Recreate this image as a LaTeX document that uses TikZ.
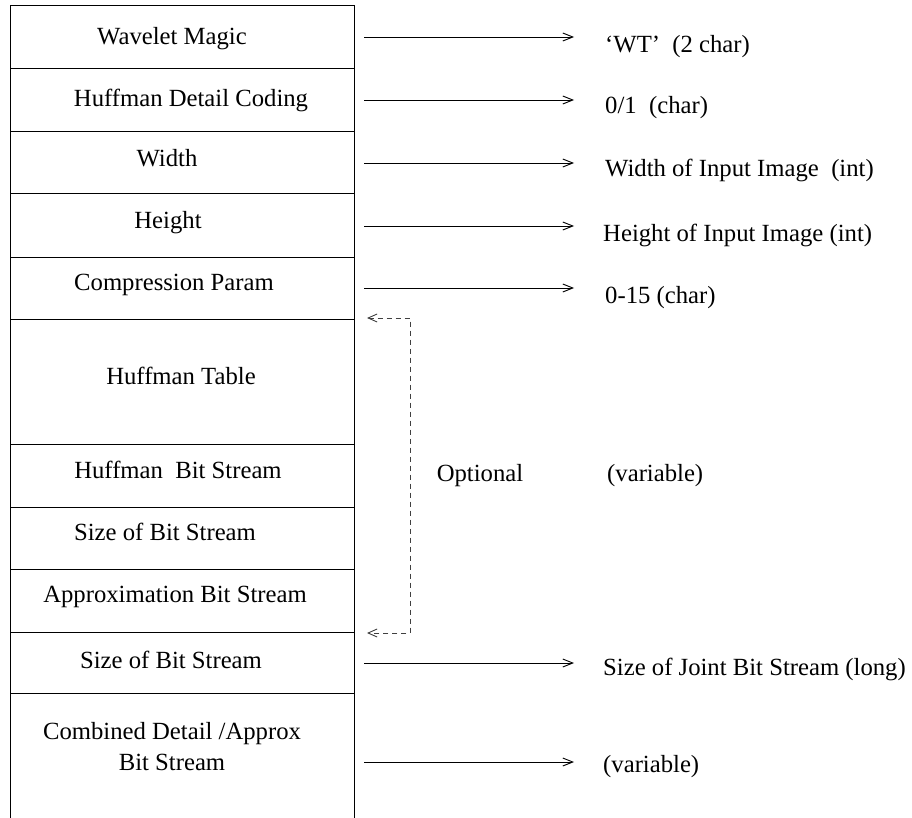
\documentclass[tikz,border=0pt]{standalone}
\usepackage{fontspec}
\setmainfont{Liberation Serif}
\usetikzlibrary{arrows.meta}
\begin{document}
\begin{tikzpicture}[x=1pt,y=-1pt,
  txt/.style={font=\fontsize{24.7}{31}\selectfont, inner sep=0pt, text height=17pt, text depth=1pt},
  cell/.style={txt, anchor=center, align=center},
  lab/.style={txt, anchor=west},
  conn/.style={line width=0.9pt, -{Straight Barb[length=10pt,width=8pt]}},
  opt/.style={line width=0.9pt, black!75, dash pattern=on 5pt off 4pt,
     {Straight Barb[length=9pt,width=8pt]}-{Straight Barb[length=9pt,width=8pt]}},
  frame/.style={line width=1pt}]
\useasboundingbox (0,0) rectangle (912,818);

% frame
\draw[frame] (10,818) -- (10,6) -- (354,6) -- (354,818);
\foreach \yy in {69,132,194,257,319,444,507,569,632,693}
  \draw[frame] (10,\yy) -- (354,\yy);

% cell texts
\node[cell] (c1) at (172,37) {Wavelet Magic};
\node[cell] (c2) at (191,99) {Huffman Detail Coding};
\node[cell] (c3) at (167,159) {Width};
\node[cell] (c4) at (168,221) {Height};
\node[cell] (c5) at (174,282) {Compression Param};
\node[cell] (c6) at (181,376) {Huffman Table};
\node[cell] (c7) at (178,470) {Huffman\ \ Bit Stream};
\node[cell] (c8) at (165,532) {Size of Bit Stream};
\node[cell] (c9) at (175,594) {Approximation Bit Stream};
\node[cell] (c10) at (171,660) {Size of Bit Stream};
\node[cell] (c11) at (172,762) {Combined Detail /Approx\\Bit Stream};

% right-hand labels
\node[lab] (l1) at (605,45) {`WT'\ \ (2 char)};
\node[lab] (l2) at (605,106) {0/1\ \ (char)};
\node[lab] (l3) at (605,169) {Width of Input Image\ \ (int)};
\node[lab] (l4) at (603,233) {Height of Input Image (int)};
\node[lab] (l5) at (605,295) {0-15 (char)};
\node[lab] (l6) at (607,473) {(variable)};
\node[lab] (l7) at (603,667) {Size of Joint Bit Stream (long)};
\node[lab] (l8) at (603,764) {(variable)};
\node[cell] (opttxt) at (480,473) {Optional};

% arrow end points
\foreach \n/\yy in {1/37,2/100,3/163,4/226,5/288,6/663,7/762} {
  \coordinate (s\n) at (364,\yy);
  \coordinate (e\n) at (574,\yy);
}
\foreach \n in {1,...,7}
  \draw[conn] (s\n) -- (e\n);

% optional bracket
\coordinate (d1) at (367,318);
\coordinate (d2) at (410,318);
\coordinate (d3) at (410,633);
\coordinate (d4) at (367,633);
\draw[opt] (d1) -- (d2) -- (d3) -- (d4);
\end{tikzpicture}
\end{document}
